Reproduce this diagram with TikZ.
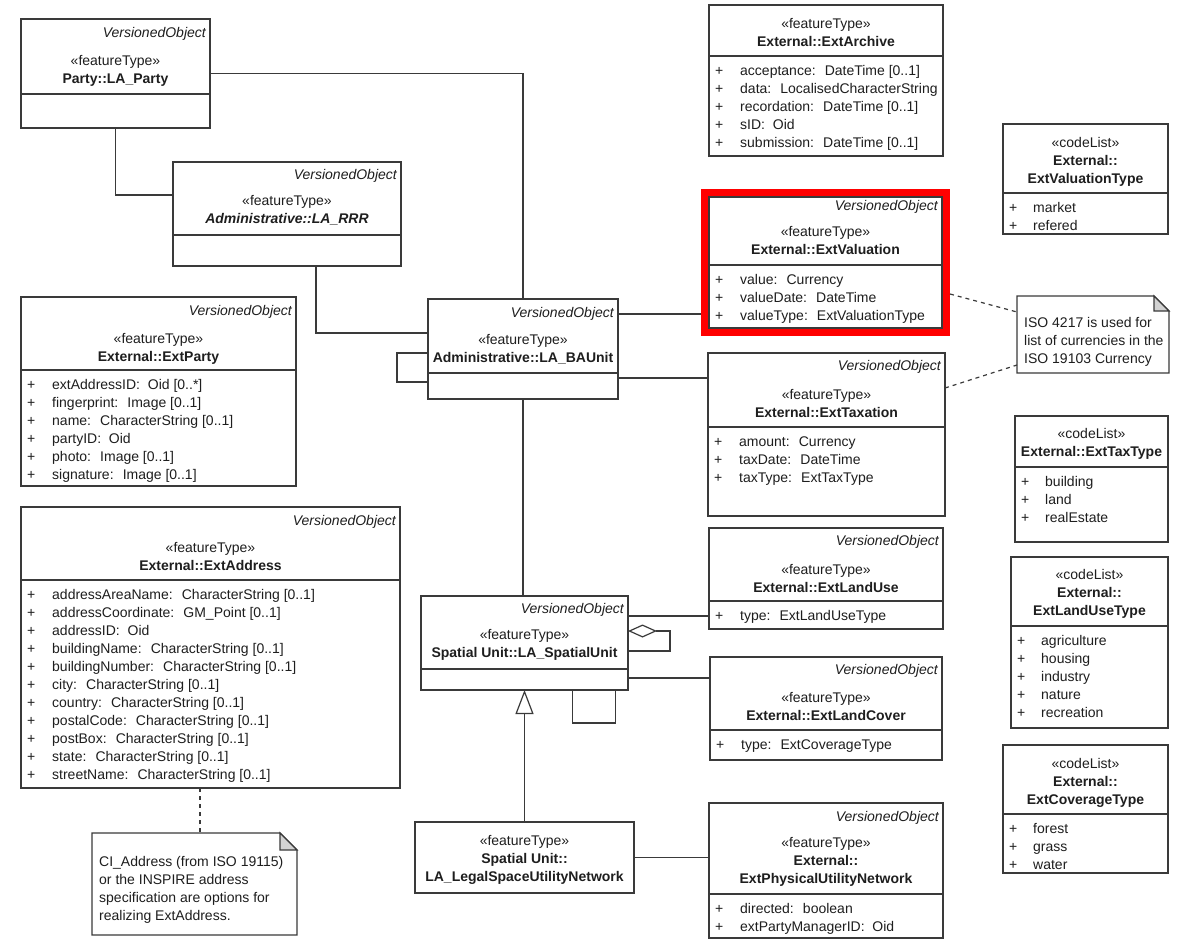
\documentclass[tikz,border=0pt]{standalone}
\usepackage{fontspec}
\setmainfont{Liberation Sans}
\usepackage{tikz}
\usetikzlibrary{arrows.meta,fit}

\definecolor{linegray}{HTML}{3A3A3A}
\definecolor{textgray}{HTML}{1E1E1E}
\definecolor{foldgray}{HTML}{D2D2D2}

\begin{document}
\begin{tikzpicture}[x=1pt,y=-1pt,font=\fontsize{14}{18}\selectfont,text=textgray]
	  \useasboundingbox (0,0) rectangle (1191,940);
	  \tikzset{ClassStyle/.style = {draw         = linegray,
	                                fill         = white,
	                                line width   = 1.3pt,
	                                inner sep    = 0pt,
	                                outer sep    = 0pt,
	                                anchor       = north west}}

	  \tikzset{SepStyle/.style   = {draw = linegray, line width = 1.3pt}}
	  \tikzset{VOStyle/.style    = {font = \fontsize{14}{18}\selectfont\itshape, anchor = east, inner sep = 0pt, yshift = -1.5pt}}
	  \tikzset{HeadStyle/.style  = {align = center, inner sep = 0pt, yshift = -1.5pt}}
	  \tikzset{AttrStyle/.style  = {anchor = north west, inner sep = 0pt, align = left}}
	  \tikzset{NoteStyle/.style  = {inner sep = 0pt, outer sep = 0pt, anchor = north west}}
	  \tikzset{NoteText/.style   = {anchor = west, inner sep = 0pt, align = left}}
	  \tikzset{EdgeStyle/.style  = {draw = linegray, line width = 1.2pt}}
	  \tikzset{DashStyle/.style  = {EdgeStyle, dash pattern = on 4pt off 4pt}}

	  % left column
	     \node[ClassStyle, minimum width=189pt, minimum height=109pt] (party) at (21,19) {};
	     \draw[SepStyle] (party.west |- 0,94) -- (party.east |- 0,94);
	     \node[VOStyle] (party-vo) at (206,32) {VersionedObject};
	     \node[HeadStyle] (party-head) at (115.5,69) {«featureType»\\\textbf{Party::LA\_Party}};

	     \node[ClassStyle, minimum width=228pt, minimum height=104pt] (rrr) at (173,162) {};
	     \draw[SepStyle] (rrr.west |- 0,235) -- (rrr.east |- 0,235);
	     \node[VOStyle] (rrr-vo) at (397,174) {VersionedObject};
	     \node[HeadStyle] (rrr-head) at (287,208.5) {«featureType»\\\textbf{\textit{Administrative::LA\_RRR}}};

	     \node[ClassStyle, minimum width=275pt, minimum height=189pt] (extparty) at (21,297) {};
	     \draw[SepStyle] (extparty.west |- 0,370) -- (extparty.east |- 0,370);
	     \node[VOStyle] (extparty-vo) at (292,310) {VersionedObject};
	     \node[HeadStyle] (extparty-head) at (158.5,347.5) {«featureType»\\\textbf{External::ExtParty}};
	     \node[AttrStyle] (extparty-attr) at (27,376.5) {\begin{tabular}{@{}p{25pt}@{}l@{}}
	        + & extAddressID:~ Oid [0..*]\\
	        + & fingerprint:~ Image [0..1]\\
	        + & name:~ CharacterString [0..1]\\
	        + & partyID:~ Oid\\
	        + & photo:~ Image [0..1]\\
	        + & signature:~ Image [0..1]
	        \end{tabular}};

	     \node[ClassStyle, minimum width=379pt, minimum height=281pt] (address) at (21,507) {};
	     \draw[SepStyle] (address.west |- 0,580) -- (address.east |- 0,580);
	     \node[VOStyle] (address-vo) at (396,520) {VersionedObject};
	     \node[HeadStyle] (address-head) at (210.5,554.5) {«featureType»\\\textbf{External::ExtAddress}};
	     \node[AttrStyle] (address-attr) at (27,586.5) {\begin{tabular}{@{}p{25pt}@{}l@{}}
	        + & addressAreaName:~ CharacterString [0..1]\\
	        + & addressCoordinate:~ GM\_Point [0..1]\\
	        + & addressID:~ Oid\\
	        + & buildingName:~ CharacterString [0..1]\\
	        + & buildingNumber:~ CharacterString [0..1]\\
	        + & city:~ CharacterString [0..1]\\
	        + & country:~ CharacterString [0..1]\\
	        + & postalCode:~ CharacterString [0..1]\\
	        + & postBox:~ CharacterString [0..1]\\
	        + & state:~ CharacterString [0..1]\\
	        + & streetName:~ CharacterString [0..1]
	        \end{tabular}};

	     \node[NoteStyle, minimum width=205pt, minimum height=102pt] (cinote) at (92,833) {};
	     \draw[EdgeStyle, fill=white] (cinote.north west) -- ([xshift=-17pt]cinote.north east) -- ([yshift=-17pt]cinote.north east) -- (cinote.south east) -- (cinote.south west) -- cycle;
	     \draw[EdgeStyle, fill=foldgray] ([xshift=-17pt]cinote.north east) -- ([yshift=-17pt]cinote.north east) -- ([xshift=-17pt,yshift=-17pt]cinote.north east) -- cycle;
	     \node[NoteText] (cinote-txt) at (99,889.5) {CI\_Address (from ISO 19115)\\or the INSPIRE address\\specification are options for\\realizing ExtAddress.};

	  % middle column
	     \node[ClassStyle, minimum width=190pt, minimum height=100pt] (baunit) at (428,299) {};
	     \draw[SepStyle] (baunit.west |- 0,373) -- (baunit.east |- 0,373);
	     \node[VOStyle] (baunit-vo) at (614,312) {VersionedObject};
	     \node[HeadStyle] (baunit-head) at (523,347.5) {«featureType»\\\textbf{Administrative::LA\_BAUnit}};

	     \node[ClassStyle, minimum width=207pt, minimum height=94pt] (spatial) at (421,596) {};
	     \draw[SepStyle] (spatial.west |- 0,669) -- (spatial.east |- 0,669);
	     \node[VOStyle] (spatial-vo) at (624,608) {VersionedObject};
	     \node[HeadStyle] (spatial-head) at (524.5,643) {«featureType»\\\textbf{Spatial Unit::LA\_SpatialUnit}};

	     \node[ClassStyle, minimum width=219pt, minimum height=71pt] (legal) at (415,822) {};
	     \node[HeadStyle] (legal-head) at (524.5,858) {«featureType»\\\textbf{Spatial Unit::}\\\textbf{LA\_LegalSpaceUtilityNetwork}};

	  % external classes
	     \node[ClassStyle, minimum width=234pt, minimum height=151pt] (archive) at (709,5) {};
	     \draw[SepStyle] (archive.west |- 0,56) -- (archive.east |- 0,56);
	     \node[HeadStyle] (archive-head) at (826,31.5) {«featureType»\\\textbf{External::ExtArchive}};
	     \node[AttrStyle] (archive-attr) at (715,62.5) {\begin{tabular}{@{}p{25pt}@{}l@{}}
	        + & acceptance:~ DateTime [0..1]\\
	        + & data:~ LocalisedCharacterString\\
	        + & recordation:~ DateTime [0..1]\\
	        + & sID:~ Oid\\
	        + & submission:~ DateTime [0..1]
	        \end{tabular}};

	     \node[ClassStyle, minimum width=233pt, minimum height=131pt] (valuation) at (709,197) {};
	     \draw[SepStyle] (valuation.west |- 0,265) -- (valuation.east |- 0,265);
	     \node[VOStyle] (valuation-vo) at (938,205) {VersionedObject};
	     \node[HeadStyle] (valuation-head) at (825.5,238.5) {«featureType»\\\textbf{External::ExtValuation}};
	     \node[AttrStyle] (valuation-attr) at (715,271.5) {\begin{tabular}{@{}p{25pt}@{}l@{}}
	        + & value:~ Currency\\
	        + & valueDate:~ DateTime\\
	        + & valueType:~ ExtValuationType
	        \end{tabular}};

	     \node[ClassStyle, minimum width=237pt, minimum height=163pt] (taxation) at (708,353) {};
	     \draw[SepStyle] (taxation.west |- 0,427) -- (taxation.east |- 0,427);
	     \node[VOStyle] (taxation-vo) at (941,365) {VersionedObject};
	     \node[HeadStyle] (taxation-head) at (826.5,401.5) {«featureType»\\\textbf{External::ExtTaxation}};
	     \node[AttrStyle] (taxation-attr) at (714,433.5) {\begin{tabular}{@{}p{25pt}@{}l@{}}
	        + & amount:~ Currency\\
	        + & taxDate:~ DateTime\\
	        + & taxType:~ ExtTaxType
	        \end{tabular}};

	     \node[ClassStyle, minimum width=234pt, minimum height=101pt] (landuse) at (709,528) {};
	     \draw[SepStyle] (landuse.west |- 0,601) -- (landuse.east |- 0,601);
	     \node[VOStyle] (landuse-vo) at (939,540) {VersionedObject};
	     \node[HeadStyle] (landuse-head) at (826,576.5) {«featureType»\\\textbf{External::ExtLandUse}};
	     \node[AttrStyle] (landuse-attr) at (715,607.5) {\begin{tabular}{@{}p{25pt}@{}l@{}}
	        + & type:~ ExtLandUseType
	        \end{tabular}};

	     \node[ClassStyle, minimum width=232pt, minimum height=103pt] (landcover) at (710,657) {};
	     \draw[SepStyle] (landcover.west |- 0,730) -- (landcover.east |- 0,730);
	     \node[VOStyle] (landcover-vo) at (938,669) {VersionedObject};
	     \node[HeadStyle] (landcover-head) at (826,705) {«featureType»\\\textbf{External::ExtLandCover}};
	     \node[AttrStyle] (landcover-attr) at (716,736.5) {\begin{tabular}{@{}p{25pt}@{}l@{}}
	        + & type:~ ExtCoverageType
	        \end{tabular}};

	     \node[ClassStyle, minimum width=234pt, minimum height=135pt] (physical) at (709,803) {};
	     \draw[SepStyle] (physical.west |- 0,894) -- (physical.east |- 0,894);
	     \node[VOStyle] (physical-vo) at (939,816) {VersionedObject};
	     \node[HeadStyle] (physical-head) at (826,860.5) {«featureType»\\\textbf{External::}\\\textbf{ExtPhysicalUtilityNetwork}};
	     \node[AttrStyle] (physical-attr) at (715,900.5) {\begin{tabular}{@{}p{25pt}@{}l@{}}
	        + & directed:~ boolean\\
	        + & extPartyManagerID:~ Oid
	        \end{tabular}};

	  % code lists
	     \node[ClassStyle, minimum width=165pt, minimum height=110pt] (valtype) at (1003,124) {};
	     \draw[SepStyle] (valtype.west |- 0,193) -- (valtype.east |- 0,193);
	     \node[HeadStyle] (valtype-head) at (1085.5,160) {«codeList»\\\textbf{External::}\\\textbf{ExtValuationType}};
	     \node[AttrStyle] (valtype-attr) at (1009,199.5) {\begin{tabular}{@{}p{24pt}@{}l@{}}
	        + & market\\
	        + & refered
	        \end{tabular}};

	     \node[NoteStyle, minimum width=152pt, minimum height=77pt] (isonote) at (1017,296) {};
	     \draw[EdgeStyle, fill=white] (isonote.north west) -- ([xshift=-15pt]isonote.north east) -- ([yshift=-15pt]isonote.north east) -- (isonote.south east) -- (isonote.south west) -- cycle;
	     \draw[EdgeStyle, fill=foldgray] ([xshift=-15pt]isonote.north east) -- ([yshift=-15pt]isonote.north east) -- ([xshift=-15pt,yshift=-15pt]isonote.north east) -- cycle;
	     \node[NoteText] (isonote-txt) at (1024,341.5) {ISO 4217 is used for\\list of currencies in the\\ISO 19103 Currency};

	     \node[ClassStyle, minimum width=153pt, minimum height=126pt] (taxtype) at (1015,416) {};
	     \draw[SepStyle] (taxtype.west |- 0,467) -- (taxtype.east |- 0,467);
	     \node[HeadStyle] (taxtype-head) at (1091.5,442) {«codeList»\\\textbf{External::ExtTaxType}};
	     \node[AttrStyle] (taxtype-attr) at (1021,473.5) {\begin{tabular}{@{}p{24pt}@{}l@{}}
	        + & building\\
	        + & land\\
	        + & realEstate
	        \end{tabular}};

	     \node[ClassStyle, minimum width=157pt, minimum height=171pt] (landusetype) at (1011,557) {};
	     \draw[SepStyle] (landusetype.west |- 0,626) -- (landusetype.east |- 0,626);
	     \node[HeadStyle] (landusetype-head) at (1089.5,592.5) {«codeList»\\\textbf{External::}\\\textbf{ExtLandUseType}};
	     \node[AttrStyle] (landusetype-attr) at (1017,632.5) {\begin{tabular}{@{}p{24pt}@{}l@{}}
	        + & agriculture\\
	        + & housing\\
	        + & industry\\
	        + & nature\\
	        + & recreation
	        \end{tabular}};

	     \node[ClassStyle, minimum width=165pt, minimum height=128pt] (covtype) at (1003,745) {};
	     \draw[SepStyle] (covtype.west |- 0,814) -- (covtype.east |- 0,814);
	     \node[HeadStyle] (covtype-head) at (1085.5,781) {«codeList»\\\textbf{External::}\\\textbf{ExtCoverageType}};
	     \node[AttrStyle] (covtype-attr) at (1009,820.5) {\begin{tabular}{@{}p{24pt}@{}l@{}}
	        + & forest\\
	        + & grass\\
	        + & water
	        \end{tabular}};

	  % associations
	     \coordinate (rrr-in)   at ([yshift=19pt]rrr.west);
	     \coordinate (bau-val)  at ([yshift=35pt]baunit.east);
	     \coordinate (bau-tax)  at ([yshift=-29pt]baunit.east);
	     \coordinate (su-use)   at ([yshift=27pt]spatial.east);
	     \coordinate (su-cover) at ([yshift=-35pt]spatial.east);
	     \coordinate (adr-out)  at ([xshift=-10.5pt]address.south);

	     \draw[EdgeStyle](party.east) -| (baunit.north);
	     \draw[EdgeStyle](party.south) |- (rrr-in);
	     \draw[EdgeStyle]([xshift=29pt]rrr.south) |- ([yshift=16pt]baunit.west);
	     \draw[EdgeStyle]([yshift=-4pt]baunit.west) -- ++(-31,0) |- ([yshift=-33pt]baunit.west);
	     \draw[EdgeStyle](bau-val) -- (bau-val -| valuation.west);
	     \draw[EdgeStyle](bau-tax) -- (bau-tax -| taxation.west);
	     \draw[EdgeStyle](baunit.south) -- (baunit.south |- spatial.north);
	     \draw[EdgeStyle](su-use) -- (su-use -| landuse.west);
	     \draw[EdgeStyle](su-cover) -- (su-cover -| landcover.west);
	     \draw[EdgeStyle, {Diamond[open, fill=white, length=29pt, width=13pt]}-]([yshift=12pt]spatial.east) -- ++(42,0) |- ([yshift=-8pt]spatial.east);
	     \draw[EdgeStyle]([xshift=48pt]spatial.south) -- ++(0,33) -| ([xshift=91pt]spatial.south);
	     \draw[EdgeStyle, -{Triangle[open, fill=white, length=24pt, width=18pt]}](legal.north) -- (legal.north |- spatial.south);
	     \draw[EdgeStyle](legal.east) -- (legal.east -| physical.west);

	  % highlight
	     \node[draw=red, line width=7pt, fit=(valuation), inner sep=4.5pt] (valframe) {};

	  % note links
	     \draw[DashStyle](adr-out) -- (adr-out |- cinote.north);
	     \draw[DashStyle]([yshift=-31.5pt]valframe.east) -- ([yshift=22.5pt]isonote.west);
	     \draw[DashStyle]([yshift=46.5pt]taxation.east) -- ([yshift=-30.5pt]isonote.west);

	  \end{tikzpicture}
\end{document}
